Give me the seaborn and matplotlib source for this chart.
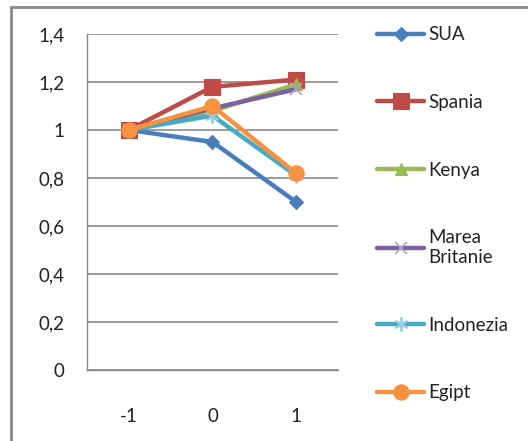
import matplotlib
matplotlib.use("Agg")
import matplotlib.pyplot as plt
import seaborn as sns
import pandas as pd
from matplotlib.patches import Rectangle

# ----------------------------------------------------------
# DATA
# ----------------------------------------------------------
years = ["-1", "0", "1"]
countries = ["SUA", "Spania", "Kenya", "Marea\nBritanie", "Indonezia", "Egipt"]
sua = [1.00, 0.95, 0.70]
spania = [1.00, 1.18, 1.21]
kenya = [1.00, 1.08, 1.19]
marea_britanie = [1.00, 1.09, 1.17]
indonezia = [1.00, 1.06, 0.81]
egipt = [1.00, 1.10, 0.82]
y_ticks = [0, 0.2, 0.4, 0.6, 0.8, 1.0, 1.2, 1.4]
y_labels = ["0", "0,2", "0,4", "0,6", "0,8", "1", "1,2", "1,4"]

series = [sua, spania, kenya, marea_britanie, indonezia, egipt]

# ----------------------------------------------------------
# STYLE
# ----------------------------------------------------------
sns.set_style("white")
plt.rcParams["font.family"] = ["Lato", "DejaVu Sans"]

colors = ["#4A7EBB", "#BE4B48", "#98B954", "#7D60A0", "#46AAC5", "#F69240"]
markers = ["D", "s", "^", "x", (6, 2, 0), "o"]
msizes = [7, 11, 9, 9, 10, 11]
medge = ["#4A7EBB", "#BE4B48", "#98B954", "#B3A2C7", "#93CDDD", "#F69240"]

fig = plt.figure(figsize=(5.28, 4.41), dpi=100)
ax = fig.add_axes([87 / 528, 71 / 441, 251 / 528, 336 / 441])

for name, vals, c, m, ms, me in zip(countries, series, colors, markers, msizes, medge):
    df = pd.DataFrame({"an": years, "val": vals})
    sns.lineplot(data=df, x="an", y="val", ax=ax, color=c, linewidth=3.2,
                 marker=m, markersize=ms, markeredgecolor=me,
                 markeredgewidth=1.3 if m in ("x", (6, 2, 0)) else 0.8,
                 label=name, sort=False)

# axes
ax.set_xlim(-0.5, 2.5)
ax.set_ylim(0, 1.4)
ax.set_yticks(y_ticks)
ax.set_yticklabels(y_labels)
ax.set_xticks([0, 1, 2])
ax.set_xticklabels(years)
ax.set_xticks([-0.5, 0.5, 1.5, 2.5], minor=True)
ax.tick_params(axis="x", which="major", length=0, pad=27, labelsize=13.5, colors="#222222")
ax.tick_params(axis="x", which="minor", length=6, width=1, color="#888888", direction="out")
ax.tick_params(axis="y", length=6, width=1, color="#888888", direction="out", pad=10,
               labelsize=13.5, labelcolor="#222222")
ax.set_xlabel("")
ax.set_ylabel("")
ax.grid(axis="y", color="#8A8A8A", linewidth=1.2)
ax.set_axisbelow(True)
for s in ["top", "right"]:
    ax.spines[s].set_visible(False)
for s in ["left", "bottom"]:
    ax.spines[s].set_color("#888888")
    ax.spines[s].set_linewidth(1)
for line in ax.lines:
    line.set_clip_on(False)

# legend
handles, labels = ax.get_legend_handles_labels()
ax.legend(handles, labels, loc="upper left", bbox_to_anchor=(368 / 528, 1 - 17 / 441),
          bbox_transform=fig.transFigure, frameon=False, fontsize=13.5,
          labelspacing=2.7, handlelength=2.5, handletextpad=0.2, borderpad=0,
          labelcolor="#222222")

# outer chart frame
fig.patches.append(Rectangle((11 / 528, -0.05), 1.1, 1 - 7 / 441 + 0.05,
                             transform=fig.transFigure, fill=False,
                             edgecolor="#888888", linewidth=2))

fig.savefig("out.png", dpi=100)
